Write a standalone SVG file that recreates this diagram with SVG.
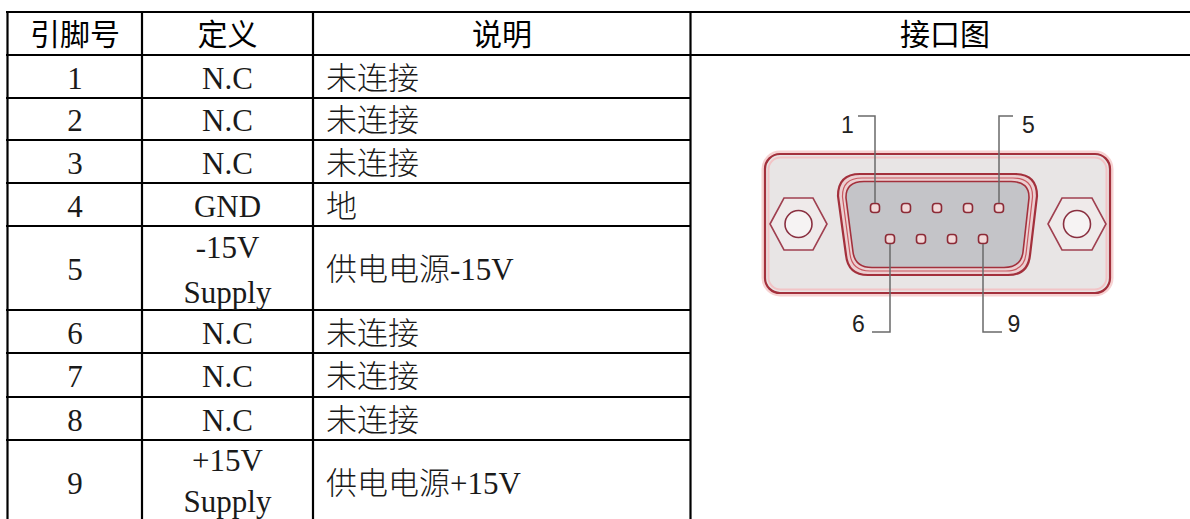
<svg xmlns="http://www.w3.org/2000/svg" width="1190" height="519" viewBox="0 0 1190 519">
<style>
.grid{stroke:#000;stroke-width:2.2;fill:none}
.hd{font-family:"Noto Sans CJK SC",sans-serif;font-size:30px;font-weight:400;fill:#000;text-anchor:middle}
.num{font-family:"Liberation Serif","Noto Sans CJK SC",serif;font-size:31px;fill:#1a1a1a;text-anchor:middle}
.def{font-family:"Liberation Serif","Noto Sans CJK SC",serif;font-size:31px;fill:#1a1a1a;text-anchor:middle}
.desc{font-family:"Liberation Serif","Noto Sans CJK SC",serif;font-size:31px;fill:#1a1a1a;font-weight:300}
.pinlbl{font-family:"Liberation Sans",Arial,sans-serif;font-size:23px;fill:#222;text-anchor:middle}
.lead{stroke:#6a6a6a;stroke-width:1.5;fill:none}
.pin{fill:#f1d9d9;stroke:#8c2a36;stroke-width:1.6}
.hex{fill:#efeaea;stroke:#a04050;stroke-width:1.6}
.hole{fill:#f6f3f3;stroke:#8a3040;stroke-width:1.6}
</style>
<rect width="1190" height="519" fill="#fff"/>

<g id="table-grid">
  <line class="grid" x1="6" y1="12" x2="1200" y2="12"/>
  <line class="grid" x1="6" y1="55" x2="1200" y2="55"/>
  <line class="grid" x1="6" y1="98" x2="691" y2="98"/>
  <line class="grid" x1="6" y1="140" x2="691" y2="140"/>
  <line class="grid" x1="6" y1="183" x2="691" y2="183"/>
  <line class="grid" x1="6" y1="226" x2="691" y2="226"/>
  <line class="grid" x1="6" y1="310" x2="691" y2="310"/>
  <line class="grid" x1="6" y1="353" x2="691" y2="353"/>
  <line class="grid" x1="6" y1="397" x2="691" y2="397"/>
  <line class="grid" x1="6" y1="440" x2="691" y2="440"/>
  <line class="grid" x1="7.5" y1="11" x2="7.5" y2="525"/>
  <line class="grid" x1="142" y1="11" x2="142" y2="525"/>
  <line class="grid" x1="313" y1="11" x2="313" y2="525"/>
  <line class="grid" x1="690.5" y1="11" x2="690.5" y2="525"/>
</g>

<g id="header">
  <text class="hd" x="75" y="45">引脚号</text>
  <text class="hd" x="227.5" y="45">定义</text>
  <text class="hd" x="502" y="45">说明</text>
  <text class="hd" x="945" y="45">接口图</text>
</g>

<g id="row-1"><text class="num" x="75" y="88.5">1</text><text class="def" x="227.5" y="88.5">N.C</text><text class="desc" x="326" y="88.5">未连接</text></g>
<g id="row-2"><text class="num" x="75" y="131">2</text><text class="def" x="227.5" y="131">N.C</text><text class="desc" x="326" y="131">未连接</text></g>
<g id="row-3"><text class="num" x="75" y="173.5">3</text><text class="def" x="227.5" y="173.5">N.C</text><text class="desc" x="326" y="173.5">未连接</text></g>
<g id="row-4"><text class="num" x="75" y="216.5">4</text><text class="def" x="227.5" y="216.5">GND</text><text class="desc" x="326" y="216.5">地</text></g>
<g id="row-5"><text class="num" x="75" y="280">5</text><text class="def" x="227.5" y="258">-15V</text><text class="def" x="227.5" y="303">Supply</text><text class="desc" x="326" y="280">供电电源-15V</text></g>
<g id="row-6"><text class="num" x="75" y="343.5">6</text><text class="def" x="227.5" y="343.5">N.C</text><text class="desc" x="326" y="343.5">未连接</text></g>
<g id="row-7"><text class="num" x="75" y="387">7</text><text class="def" x="227.5" y="387">N.C</text><text class="desc" x="326" y="387">未连接</text></g>
<g id="row-8"><text class="num" x="75" y="430.5">8</text><text class="def" x="227.5" y="430.5">N.C</text><text class="desc" x="326" y="430.5">未连接</text></g>
<g id="row-9"><text class="num" x="75" y="494">9</text><text class="def" x="227.5" y="471">+15V</text><text class="def" x="227.5" y="512">Supply</text><text class="desc" x="326" y="494">供电电源+15V</text></g>

<g id="db9-connector">
  <rect x="765" y="154" width="345" height="139" rx="15" fill="none" stroke="#f6d2d2" stroke-width="7"/>
  <rect x="765" y="154" width="345" height="139" rx="15" fill="#e8e5e5" stroke="#a3303c" stroke-width="2.2"/>
  <rect x="768.5" y="157.5" width="338" height="132" rx="12" fill="none" stroke="#f2c4c6" stroke-width="2"/>
  <polygon class="hex" points="770,224 784,198 813,198 827,224 813,250 784,250"/>
  <circle class="hole" cx="798.5" cy="224" r="13.5"/>
  <polygon class="hex" points="1048,224 1062,198 1092,198 1106,224 1092,250 1062,250"/>
  <circle class="hole" cx="1077" cy="224" r="13.5"/>
  <path d="M860 174 L1015 174 Q1037 174 1037 196 L1030 255 Q1028 275 1008 275 L868 275 Q848 275 846 255 L838 196 Q838 174 860 174 Z" fill="#eccfd1" stroke="#a3303c" stroke-width="2.2"/>
  <path d="M862 178 L1013 178 Q1033 178 1032.5 197 L1026 254 Q1024 271 1006 271 L870 271 Q852 271 850 254 L842.5 197 Q842 178 862 178 Z" fill="none" stroke="#c85860" stroke-width="1.2"/>
  <path d="M864 181.5 L1011 181.5 Q1029.5 181.5 1029 198 L1023 252 Q1021 267.5 1004 267.5 L872 267.5 Q855 267.5 853 252 L846 198 Q845.5 181.5 864 181.5 Z" fill="#c4c4c8" stroke="#a3303c" stroke-width="1.6"/>
  <rect class="pin" x="870.5" y="203.5" width="9" height="9" rx="3"/>
  <rect class="pin" x="901.5" y="203.5" width="9" height="9" rx="3"/>
  <rect class="pin" x="932.5" y="203.5" width="9" height="9" rx="3"/>
  <rect class="pin" x="963.5" y="203.5" width="9" height="9" rx="3"/>
  <rect class="pin" x="994.5" y="203.5" width="9" height="9" rx="3"/>
  <rect class="pin" x="885.5" y="234.5" width="9" height="9" rx="3"/>
  <rect class="pin" x="916.5" y="234.5" width="9" height="9" rx="3"/>
  <rect class="pin" x="947.5" y="234.5" width="9" height="9" rx="3"/>
  <rect class="pin" x="978.5" y="234.5" width="9" height="9" rx="3"/>
  <text class="pinlbl" x="847.5" y="133">1</text>
  <text class="pinlbl" x="1028.5" y="133">5</text>
  <text class="pinlbl" x="858.5" y="332">6</text>
  <text class="pinlbl" x="1014" y="332">9</text>
</g>

<g id="connectors">
  <polyline class="lead" points="858,116 875,116 875,203"/>
  <polyline class="lead" points="1013,116 999,116 999,203"/>
  <polyline class="lead" points="890,244 890,332 872,332"/>
  <polyline class="lead" points="983,244 983,332 1002,332"/>
</g>
</svg>
